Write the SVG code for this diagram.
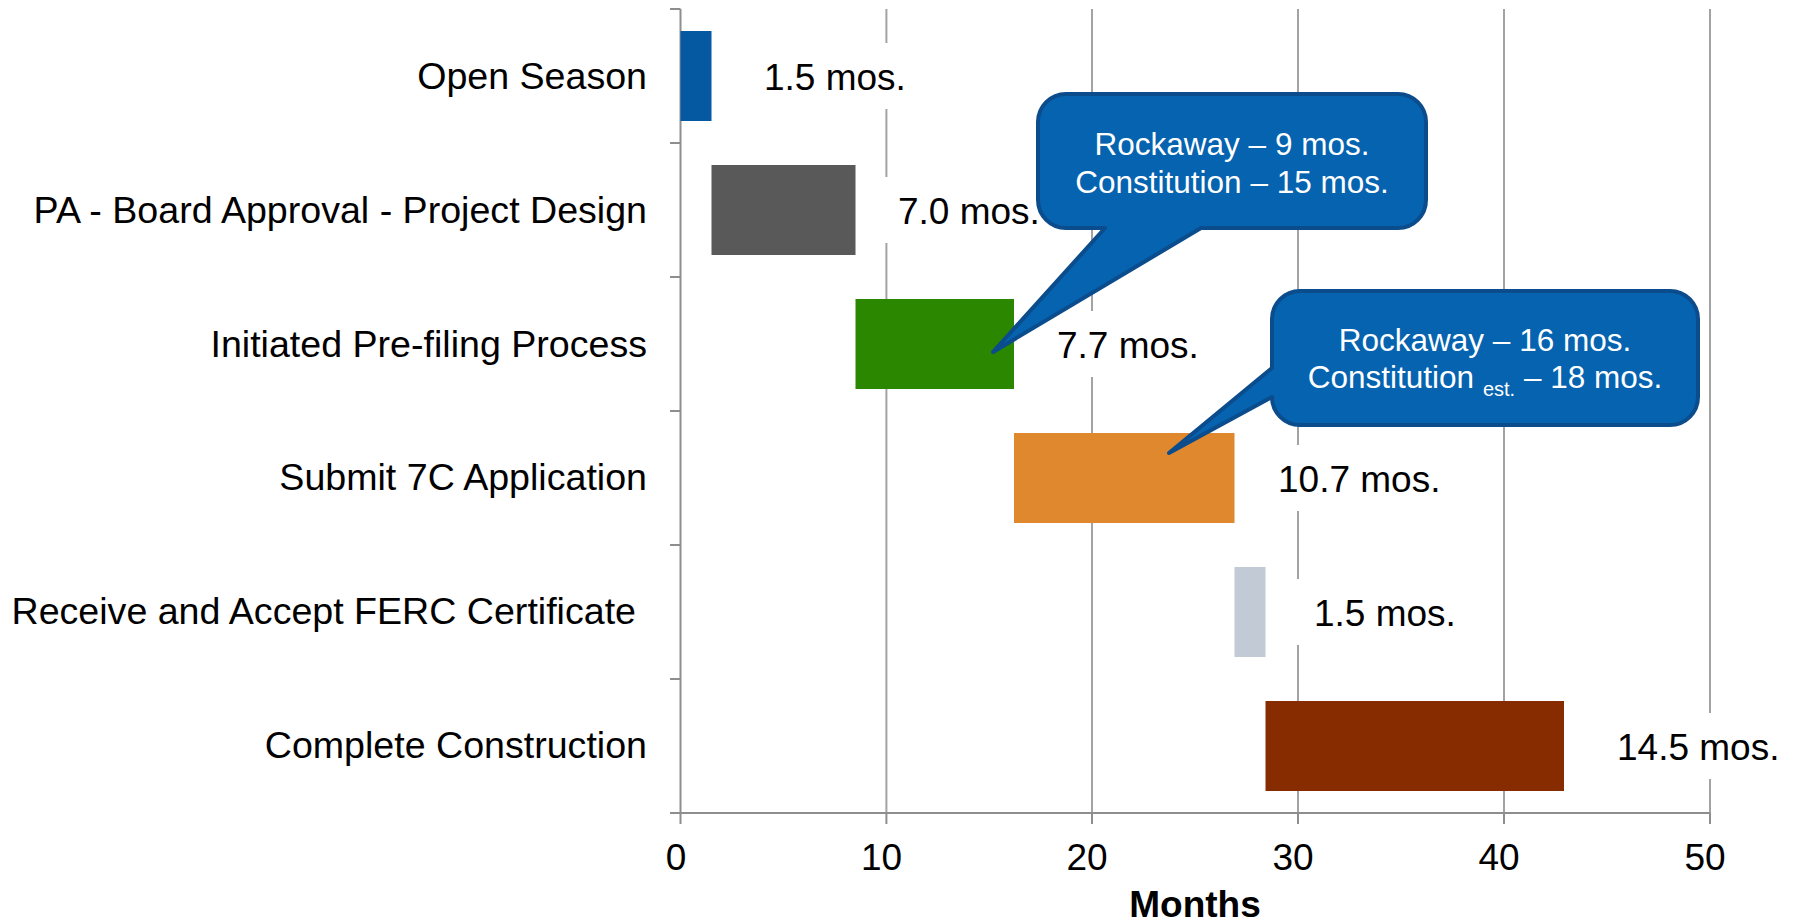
<svg xmlns="http://www.w3.org/2000/svg" width="1796" height="924" viewBox="0 0 1796 924">
<style>
.t{font-family:"Liberation Sans",Arial,sans-serif;font-size:37px;fill:#000}
.cat{text-anchor:end;font-size:37.6px}
.ax{text-anchor:middle}
.grid{stroke:#A3A3A3;stroke-width:2;fill:none}
.axis{stroke:#8E8E8E;stroke-width:2;fill:none}
.lbg{fill:#FFFFFF}
.co{fill:#0563B0;stroke:#0B4C8C;stroke-width:4;stroke-linejoin:round}
.ct{font-family:"Liberation Sans",Arial,sans-serif;font-size:31.5px;fill:#FFFFFF;text-anchor:middle}
</style>
<rect width="1796" height="924" fill="#FFFFFF"/>
<g id="gridlines">
<path class="grid" d="M886.4 9V813M1092 9V813M1298 9V813M1504 9V813M1710 9V813"/>
</g>
<g id="label-backgrounds">
<rect class="lbg" x="746" y="43" width="180" height="66"/>
<rect class="lbg" x="880" y="177" width="178" height="66"/>
<rect class="lbg" x="1039" y="311" width="178" height="66"/>
<rect class="lbg" x="1259" y="445" width="200" height="66"/>
<rect class="lbg" x="1295" y="579" width="180" height="66"/>
<rect class="lbg" x="1598" y="713" width="198" height="66"/>
</g>
<g id="axes">
<path class="axis" d="M680.5 9V813M670 813H1710"/>
<path class="axis" d="M670 9H680.5M670 143H680.5M670 277H680.5M670 411H680.5M670 545H680.5M670 679H680.5"/>
<path class="axis" d="M680.5 813V824M886.4 813V824M1092 813V824M1298 813V824M1504 813V824M1710 813V824"/>
<text class="t ax" x="676" y="870">0</text>
<text class="t ax" x="881.5" y="870">10</text>
<text class="t ax" x="1087" y="870">20</text>
<text class="t ax" x="1293" y="870">30</text>
<text class="t ax" x="1499" y="870">40</text>
<text class="t ax" x="1705" y="870">50</text>
<text class="t ax" x="1195" y="917" font-weight="bold">Months</text>
</g>
<g id="task-open-season">
<rect x="680.5" y="31" width="31" height="90" fill="#0559A1"/>
<text class="t cat" x="647" y="89">Open Season</text>
<text class="t" x="764" y="90">1.5 mos.</text>
</g>
<g id="task-board-approval">
<rect x="711.5" y="165" width="144" height="90" fill="#595959"/>
<text class="t cat" x="647" y="223">PA - Board Approval - Project Design</text>
<text class="t" x="898" y="224">7.0 mos.</text>
</g>
<g id="task-prefiling">
<rect x="855.5" y="299" width="158.5" height="90" fill="#2B8700"/>
<text class="t cat" x="647" y="357">Initiated Pre-filing Process</text>
<text class="t" x="1057" y="358">7.7 mos.</text>
</g>
<g id="task-7c">
<rect x="1014" y="433" width="220.5" height="90" fill="#E0882E"/>
<text class="t cat" x="647" y="490">Submit 7C Application</text>
<text class="t" x="1278" y="492">10.7 mos.</text>
</g>
<g id="task-ferc">
<rect x="1234.5" y="567" width="31" height="90" fill="#C2CAD6"/>
<text class="t cat" x="636" y="624">Receive and Accept FERC Certificate</text>
<text class="t" x="1314" y="626">1.5 mos.</text>
</g>
<g id="task-construction">
<rect x="1265.5" y="701" width="298.5" height="90" fill="#872B00"/>
<text class="t cat" x="647" y="758">Complete Construction</text>
<text class="t" x="1617" y="760">14.5 mos.</text>
</g>
<g id="callout-prefiling">
<path class="co" d="M1066 94H1398A28 28 0 0 1 1426 122V200A28 28 0 0 1 1398 228H1201L993 352L1105 228H1066A28 28 0 0 1 1038 200V122A28 28 0 0 1 1066 94Z"/>
<text class="ct" x="1232" y="155">Rockaway – 9 mos.</text>
<text class="ct" x="1232" y="193">Constitution – 15 mos.</text>
</g>
<g id="callout-7c">
<path class="co" d="M1300 291H1670A28 28 0 0 1 1698 319V397A28 28 0 0 1 1670 425H1300A28 28 0 0 1 1272 397L1169 453L1272 368V319A28 28 0 0 1 1300 291Z"/>
<text class="ct" x="1485" y="351">Rockaway – 16 mos.</text>
<text class="ct" x="1485" y="388">Constitution <tspan font-size="20" dy="8">est.</tspan><tspan dy="-8"> – 18 mos.</tspan></text>
</g>
<g id="connectors"></g>
</svg>
